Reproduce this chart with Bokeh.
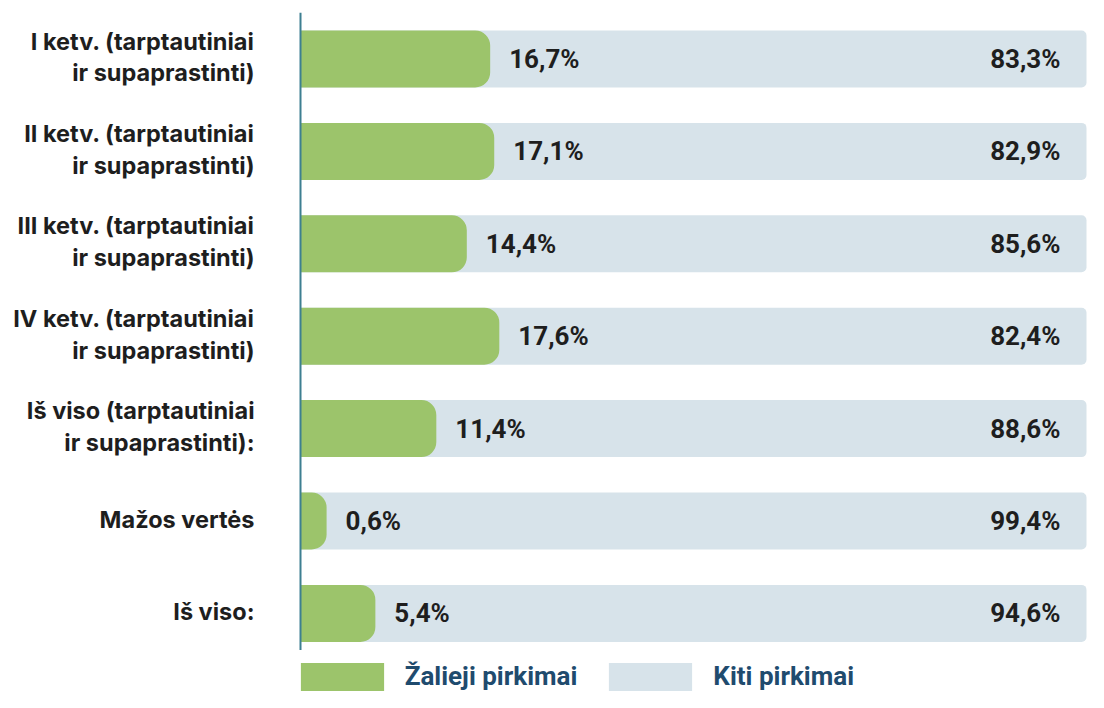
from bokeh.plotting import figure
from bokeh.layouts import column
from bokeh.models import Range1d, ColumnDataSource, Span, Legend, LegendItem
from bokeh.core.properties import value
from bokeh.embed import file_html
from bokeh.resources import INLINE

# ---------------- data ----------------
categories = [
    "I ketv. (tarptautiniai\nir supaprastinti)",
    "II ketv. (tarptautiniai\nir supaprastinti)",
    "III ketv. (tarptautiniai\nir supaprastinti)",
    "IV ketv. (tarptautiniai\nir supaprastinti)",
    "Iš viso (tarptautiniai\nir supaprastinti):",
    "Mažos vertės",
    "Iš viso:",
]
green_share = [16.7, 17.1, 14.4, 17.6, 11.4, 0.6, 5.4]
other_share = [83.3, 82.9, 85.6, 82.4, 88.6, 99.4, 94.6]
series_names = ["Žalieji pirkimai", "Kiti pirkimai"]

# ---------------- layout constants ----------------
W = 1088
H_MAIN, H_LEG = 650, 42
TOP = 12
AXIS_PX = 300          # canvas x of the value axis
FULL_PX = 786          # pixels for 100 % (background bars)
GREEN_PX = 10.16       # pixels per % for the green bars (as drawn in the original)
GREEN_CAP_PX = 20      # rounded stub that every green bar starts with
ROW_PX = 92.4
FIRST_PX = 46.5        # first row centre below frame top
frame_h = H_MAIN - TOP

GREEN = "#9cc46b"
LIGHT = "#d7e3ea"
TEXT = "#1e1e1e"
NAVY = "#1f4b6e"
AXIS = "#3d7f91"
COND_STR = "Roboto"
COND = value(COND_STR)
LABEL_FONT = value("Inter")

def pct(v):
    return f"{v:.1f}%".replace(".", ",")

src = ColumnDataSource(dict(
    y=list(range(len(categories))),
    cat=categories,
    g=green_share,
    o=other_share,
    total=[a + b for a, b in zip(green_share, other_share)],
    g_lbl=[pct(v) for v in green_share],
    o_lbl=[pct(v) for v in other_share],
))

p = figure(
    width=W, height=H_MAIN,
    x_range=Range1d(-AXIS_PX / FULL_PX * 100, (W - AXIS_PX) / FULL_PX * 100),
    y_range=Range1d(start=(frame_h - FIRST_PX) / ROW_PX, end=-FIRST_PX / ROW_PX),
    x_axis_location=None, y_axis_location=None,
    toolbar_location=None, output_backend="svg",
    min_border_left=0, min_border_right=0, min_border_top=TOP, min_border_bottom=0,
)
g0 = -(AXIS_PX + GREEN_CAP_PX) / GREEN_PX
p.extra_x_ranges = {"green": Range1d(g0, g0 + W / GREEN_PX)}
p.outline_line_color = None
p.xgrid.visible = False
p.ygrid.visible = False
p.background_fill_color = "white"
p.border_fill_color = "white"

bar_h = 57 / ROW_PX

bg = p.hbar(y="y", left=0, right="total", height=bar_h, source=src,
            fill_color=LIGHT, line_color=None, border_radius=(0, 5, 5, 0))
gr = p.hbar(y="y", left=-GREEN_CAP_PX / GREEN_PX, right="g", height=bar_h, source=src,
            x_range_name="green",
            fill_color=GREEN, line_color=None, border_radius=(0, 15, 15, 0))

p.add_layout(Span(location=0, dimension="height", line_color=AXIS, line_width=2))

# value labels
p.text(x="g", y="y", text="g_lbl", source=src, x_range_name="green", x_offset=19,
       text_align="left", text_baseline="middle", text_font=COND,
       text_font_style="bold", text_font_size="26px", text_color=TEXT)
p.text(x="total", y="y", text="o_lbl", source=src, x_offset=-26,
       text_align="right", text_baseline="middle", text_font=COND,
       text_font_style="bold", text_font_size="26px", text_color=TEXT)

# category labels
p.text(x=0, y="y", text="cat", source=src, x_offset=-46, y_offset=-2,
       text_align="right", text_baseline="middle", text_font=LABEL_FONT,
       text_font_style="bold", text_font_size="23.5px", text_color=TEXT,
       text_line_height=1.09)

# ---------------- legend strip ----------------
lf = figure(
    width=W, height=H_LEG, x_range=Range1d(0, 1), y_range=Range1d(0, 1),
    x_axis_location=None, y_axis_location=None,
    toolbar_location=None, output_backend="svg",
    min_border_left=0, min_border_right=0, min_border_top=0, min_border_bottom=0,
)
lf.outline_line_color = None
lf.xgrid.visible = False
lf.ygrid.visible = False
# proxy renderers for the legend swatches (kept outside the visible range)
proxy = ColumnDataSource(dict(y=[-5], r=[-4]))
lg = lf.hbar(y="y", left=-5, right="r", height=1, source=proxy, fill_color=GREEN, line_color=None)
lo = lf.hbar(y="y", left=-5, right="r", height=1, source=proxy, fill_color=LIGHT, line_color=None)

# Bokeh insets area swatches by 10 % on each side
SW_W, SW_H = 83, 28
GW, GH = SW_W / 0.8, SW_H / 0.8
legend = Legend(
    items=[LegendItem(label=series_names[0], renderers=[lg]),
           LegendItem(label=series_names[1], renderers=[lo])],
    location=(AXIS_PX - 0.1 * GW, -1.5), orientation="horizontal",
    glyph_width=round(GW), glyph_height=round(GH), label_standoff=11, spacing=21,
    padding=0, margin=0, background_fill_alpha=0, border_line_color=None,
    label_text_font=COND_STR, label_text_font_style="bold", label_text_font_size="26px",
    label_text_color=NAVY, label_text_baseline="middle",
)
lf.add_layout(legend)

layout = column(p, lf, spacing=0)
open("out.html", "w").write(file_html(layout, INLINE))
